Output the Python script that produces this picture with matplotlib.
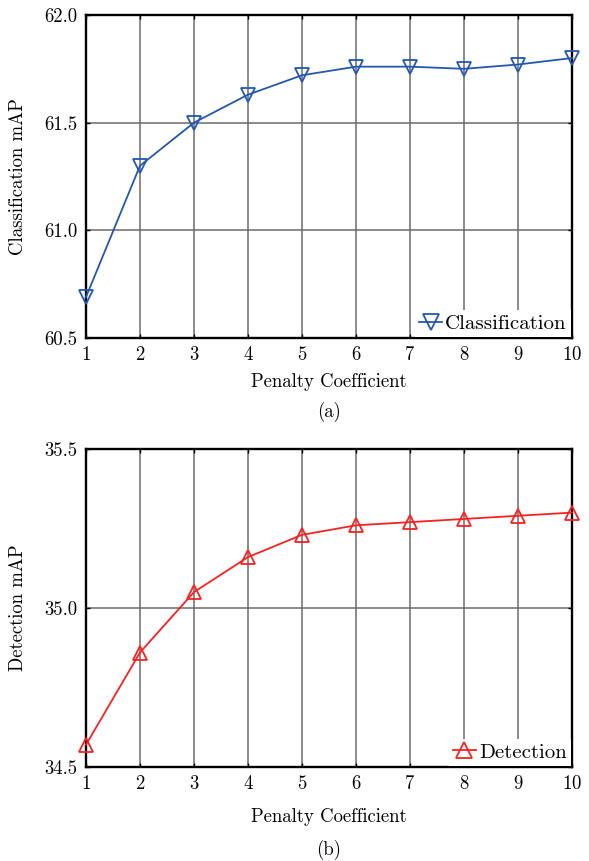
import numpy as np
import matplotlib
matplotlib.use("Agg")
from matplotlib import pyplot as plt

plt.rcParams['font.family'] = ['cmr10', 'DejaVu Serif']
plt.rcParams['mathtext.fontset'] = 'cm'
plt.rcParams['axes.formatter.use_mathtext'] = True

penalty = [1, 2, 3, 4, 5, 6, 7, 8, 9, 10]
cls_map = [60.69, 61.30, 61.50, 61.63, 61.72, 61.76, 61.76, 61.75, 61.77, 61.80]
det_map = [34.57, 34.86, 35.05, 35.16, 35.23, 35.26, 35.27, 35.28, 35.29, 35.30]

cls_ticks = [60.5, 61.0, 61.5, 62.0]
det_ticks = [34.5, 35.0, 35.5]

fig = plt.figure(figsize=(5.89, 8.61), dpi=100)
ax1 = fig.add_axes([0.146, 0.6074, 0.825, 0.3752])
ax2 = fig.add_axes([0.146, 0.1092, 0.825, 0.3693])


def style_axis(ax, yticks, ylabel, caption, xlab_y, cap_y):
    ax.set_xlim(1, 10)
    ax.set_ylim(yticks[0], yticks[-1])
    ax.set_xticks(penalty)
    ax.set_yticks(yticks)
    ax.set_yticklabels(['%.1f' % t for t in yticks])
    ax.grid(True, color='0.42', linewidth=1.1)
    ax.set_axisbelow(True)
    ax.tick_params(direction='in', top=True, right=True, length=3,
                   width=1.0, labelsize=13.5, pad=6)
    for s in ax.spines.values():
        s.set_linewidth(1.7)
    ax.set_xlabel('Penalty Coefficient', fontsize=13.5)
    ax.xaxis.set_label_coords(0.5, xlab_y)
    ax.xaxis.label.set_va('center')
    ax.set_ylabel(ylabel, fontsize=13.5)
    ax.yaxis.set_label_coords(-0.14, 0.5)
    ax.yaxis.label.set_va('center')
    ax.text(0.5, cap_y, caption, transform=ax.transAxes, ha='center',
            va='center', fontsize=13.5)
    leg = ax.legend(loc='lower right', frameon=True, fancybox=False,
                    borderaxespad=0.05, handlelength=1.1, handletextpad=0.15,
                    borderpad=0.2, fontsize=15, markerscale=1.2)
    leg.get_frame().set_edgecolor('none')
    leg.get_frame().set_alpha(1.0)


ax1.plot(penalty, cls_map, color='#2457b0', marker='v', markersize=10,
         markerfacecolor='none', markeredgewidth=1.3, linewidth=1.3,
         label='Classification', clip_on=False, zorder=5)
style_axis(ax1, cls_ticks, 'Classification mAP', '(a)', -0.136, -0.229)

ax2.plot(penalty, det_map, color='#f52222', marker='^', markersize=10,
         markerfacecolor='none', markeredgewidth=1.3, linewidth=1.3,
         label='Detection', clip_on=False, zorder=5)
style_axis(ax2, det_ticks, 'Detection mAP', '(b)', -0.157, -0.261)

fig.savefig('out.png', dpi=100)
